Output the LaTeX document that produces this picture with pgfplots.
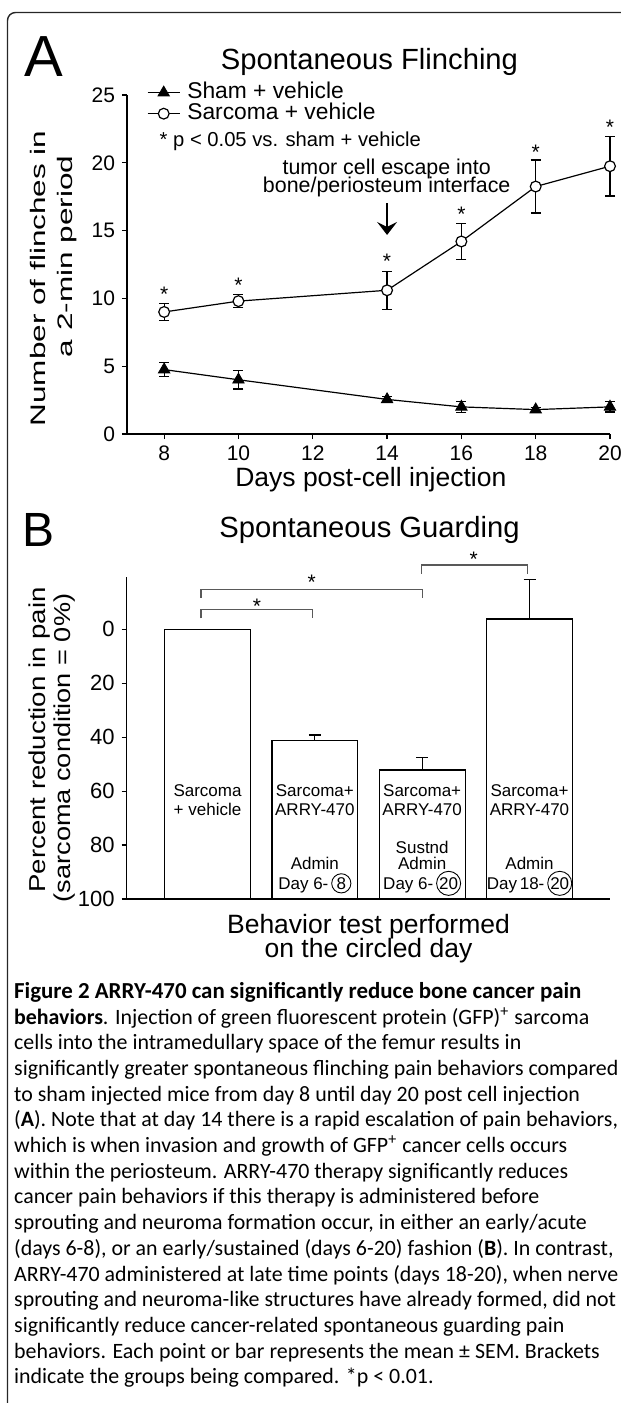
\documentclass[border=0pt]{standalone}
\usepackage{pgfplots}
\pgfplotsset{compat=1.18}
\usepackage{pgfplotstable}
\usepackage{fontspec}
\setmainfont{Liberation Sans}
\newfontfamily\capfont{Carlito}
\usetikzlibrary{arrows.meta}

\pgfplotstableread{
d m e
8 4.75 0.50
10 4.00 0.68
14 2.55 0.20
16 2.00 0.40
18 1.80 0.15
20 2.00 0.38
}\sham
\pgfplotstableread{
d m e
8 9.00 0.63
10 9.80 0.50
14 10.60 1.40
16 14.20 1.33
18 18.25 1.95
20 19.75 2.20
}\sarc
\pgfplotstableread{
i v e
0 0.0 0.0
1 41.1 1.9
2 52.2 4.6
3 -3.8 14.8
}\guard

\newcommand\fsz[2]{\fontsize{#1}{#2}\selectfont}
\newcommand\circnum[1]{\tikz[baseline=(c.base)]\node[draw,circle,inner sep=0.3pt,minimum size=9.6pt,line width=0.45pt](c){#1};}
\newcommand\cl[2]{\node[anchor=base west,inner sep=0pt,font=\capfont\fsz{10.95}{12.9}] at (6.9pt,{-(499.15+#1*12.85)*1pt}) {#2};}
\newcommand\sigstar[2]{\node[anchor=base,inner sep=0pt,font=\fsz{10.5}{12}] at (axis cs:#1,#2) {*};}

\begin{document}
\begin{tikzpicture}
\useasboundingbox (0,0) rectangle (310.5pt,-701.5pt);
\draw[line width=0.7pt, black!85, rounded corners=4pt] (3.75pt,-703pt) -- (3.75pt,-6.25pt) -- (312pt,-6.25pt);

% ---------------- Panel A ----------------
\node[anchor=base west,inner sep=0pt,font=\fsz{29}{32}] at (12.1pt,-38.35pt) {A};
\node[anchor=base,inner sep=0pt,font=\fsz{14.6}{17}] at (184.75pt,-34.5pt) {Spontaneous Flinching};
\node[anchor=base west,inner sep=0pt,font=\fsz{10.1}{12}] at (79.65pt,-73pt) {* p < 0.05 vs. sham + vehicle};
\node[anchor=base,inner sep=0pt,font=\fsz{10.7}{12}] at (193.35pt,-87pt) {tumor cell escape into};
\node[anchor=base,inner sep=0pt,font=\fsz{10.7}{12}] at (193.35pt,-96.25pt) {bone/periosteum interface};
\node[anchor=base,inner sep=0pt,font=\fsz{13.25}{15}] at (185.4pt,-243.35pt) {Days post-cell injection};
\node[anchor=base,inner sep=0pt,rotate=90,xscale=1.5,font=\fsz{10.5}{12}] at (22.5pt,-139.25pt) {Number of flinches in};
\node[anchor=base,inner sep=0pt,rotate=90,xscale=1.5,font=\fsz{10.5}{12}] at (36.15pt,-128.25pt) {a 2-min period};

\begin{axis}[
  at={(63.5pt,-217pt)}, anchor=south west, scale only axis,
  width=241.5pt, height=169.5pt,
  xmin=7, xmax=20, ymin=0, ymax=25,
  axis x line*=bottom, axis y line*=left,
  xtick={8,10,12,14,16,18,20}, ytick={0,5,10,15,20,25},
  tick align=outside, major tick length=2.5pt,
  every tick/.style={black, line width=0.6pt},
  axis line style={black, line width=0.6pt},
  tick label style={font=\fsz{10.5}{12}},
  /pgf/number format/assume math mode=true,
  clip=false,
  legend cell align=left,
  legend style={at={(0.0408,1.039)}, anchor=north west, draw=none, fill=none,
    inner sep=0pt, font=\fsz{11.4}{13},
    nodes={inner sep=0pt, text height=8.3pt, text depth=2.2pt},
    /tikz/every odd column/.append style={column sep=3.5pt}},
  legend image code/.code={\draw[mark repeat=2,mark phase=2,#1] plot coordinates {(0pt,0pt) (8pt,0pt) (16pt,0pt)};},
]
\addplot[black, line width=0.6pt, mark=triangle*, mark size=3.3pt,
  mark options={fill=black, line width=0.4pt},
  error bars/.cd, y dir=both, y explicit,
  error bar style={line width=0.6pt},
  error mark options={rotate=90, mark size=2.5pt, line width=0.6pt}]
  table[x=d, y=m, y error=e] {\sham};
\addlegendentry{Sham + vehicle}
\addplot[black, line width=0.6pt, mark=*, mark size=2.7pt,
  mark options={fill=white, line width=0.6pt},
  error bars/.cd, y dir=both, y explicit,
  error bar style={line width=0.6pt},
  error mark options={rotate=90, mark size=2.5pt, line width=0.6pt}]
  table[x=d, y=m, y error=e] {\sarc};
\addlegendentry{Sarcoma + vehicle}
\sigstar{8}{9.77}
\sigstar{10}{10.46}
\sigstar{14}{12.18}
\sigstar{16}{15.67}
\sigstar{18}{20.24}
\sigstar{20}{22.06}
\draw[line width=0.7pt, -{Stealth[length=6.5pt,width=10pt,inset=2.5pt]}] (axis cs:14,17.0) -- (axis cs:14,14.68);
\end{axis}

% ---------------- Panel B ----------------
\node[anchor=base west,inner sep=0pt,font=\fsz{24}{28}] at (11.2pt,-273.35pt) {B};
\node[anchor=base,inner sep=0pt,font=\fsz{14.6}{17}] at (184.75pt,-268.65pt) {Spontaneous Guarding};
\node[anchor=base,inner sep=0pt,font=\fsz{13.25}{15}] at (184.25pt,-466.65pt) {Behavior test performed};
\node[anchor=base,inner sep=0pt,font=\fsz{13.25}{15}] at (184.25pt,-478.65pt) {on the circled day};
\node[anchor=base,inner sep=0pt,rotate=90,xscale=1.2,font=\fsz{11.5}{13}] at (22.5pt,-370pt) {Percent reduction in pain};
\node[anchor=base,inner sep=0pt,rotate=90,xscale=1.18,font=\fsz{11.5}{13}] at (35.25pt,-374pt) {(sarcoma condition = 0\%)};

\begin{axis}[
  at={(63.35pt,-449.5pt)}, anchor=south west, scale only axis,
  width=241.65pt, height=161.15pt,
  xmin=-0.753, xmax=3.75, ymin=0, ymax=119.5,
  axis x line*=bottom, axis y line*=left,
  xtick=\empty, ytick={0,20,40,60,80,100}, yticklabels={100,80,60,40,20,0},
  tick align=outside, major tick length=2.5pt,
  every tick/.style={black, line width=0.6pt},
  axis line style={black, line width=0.6pt},
  tick label style={font=\fsz{11}{13}},
  ybar, bar width=0.8,
  clip=false,
]
\addplot[draw=black, fill=white, line width=0.6pt, bar shift=0pt,
  error bars/.cd, y dir=plus, y explicit,
  error bar style={line width=0.6pt},
  error mark options={rotate=90, mark size=3pt, line width=0.6pt}]
  table[x=i, y expr=100-\thisrow{v}, y error=e] {\guard};
% brackets
\draw[black!65, line width=0.6pt] (axis cs:-0.06,104.08) -- (axis cs:-0.06,107.42) -- (axis cs:0.977,107.42) -- (axis cs:0.977,104.08);
\draw[black!65, line width=0.6pt] (axis cs:-0.06,111.73) -- (axis cs:-0.06,114.84) -- (axis cs:2.0,114.84) -- (axis cs:2.0,111.73);
\draw[black!65, line width=0.6pt] (axis cs:1.99,120.52) -- (axis cs:1.99,123.86) -- (axis cs:2.98,123.86) -- (axis cs:2.98,120.52);
\sigstar{0.46}{105.97}
\sigstar{0.97}{114.77}
\sigstar{2.48}{123.37}
% bar texts
\begin{scope}[every node/.style={anchor=base,inner sep=0pt,font=\fsz{8.5}{10}}]
\node at (axis cs:0,38.15) {Sarcoma};
\node at (axis cs:0,31.1) {+ vehicle};
\node at (axis cs:1,38.15) {Sarcoma+};
\node at (axis cs:1,31.1) {ARRY-470};
\node at (axis cs:2,38.15) {Sarcoma+};
\node at (axis cs:2,31.1) {ARRY-470};
\node at (axis cs:3,38.15) {Sarcoma+};
\node at (axis cs:3,31.1) {ARRY-470};
\node at (axis cs:1,11.06) {Admin};
\node at (axis cs:2,17.0) {Sustnd};
\node at (axis cs:2,11.06) {Admin};
\node at (axis cs:3,11.06) {Admin};
\end{scope}
\node[anchor=base,inner sep=0pt,font=\fsz{8.5}{10}] at (axis cs:1,3.64) {Day 6-\,\circnum{8}};
\node[anchor=base,inner sep=0pt,font=\fsz{8.5}{10}] at (axis cs:2,3.64) {Day 6-\,\circnum{20}};
\node[anchor=base,inner sep=0pt,font=\fsz{8.5}{10}] at (axis cs:3,3.64) {Day\,18-\,\circnum{20}};
\end{axis}

% ---------------- Caption ----------------
\cl{0}{\bfseries\fsz{11.45}{12.9}Figure 2 ARRY-470 can significantly reduce bone cancer pain}
\cl{1}{\textbf{behaviors}. Injection of green fluorescent protein (GFP)\textsuperscript{+} sarcoma}
\cl{2}{cells into the intramedullary space of the femur results in}
\cl{3}{significantly greater spontaneous flinching pain behaviors compared}
\cl{4}{to sham injected mice from day 8 until day 20 post cell injection}
\cl{5}{(\textbf{A}). Note that at day 14 there is a rapid escalation of pain behaviors,}
\cl{6}{which is when invasion and growth of GFP\textsuperscript{+} cancer cells occurs}
\cl{7}{within the periosteum. ARRY-470 therapy significantly reduces}
\cl{8}{cancer pain behaviors if this therapy is administered before}
\cl{9}{sprouting and neuroma formation occur, in either an early/acute}
\cl{10}{(days 6-8), or an early/sustained (days 6-20) fashion (\textbf{B}). In contrast,}
\cl{11}{ARRY-470 administered at late time points (days 18-20), when nerve}
\cl{12}{sprouting and neuroma-like structures have already formed, did not}
\cl{13}{significantly reduce cancer-related spontaneous guarding pain}
\cl{14}{behaviors. Each point or bar represents the mean ± SEM. Brackets}
\cl{15}{indicate the groups being compared. *p < 0.01.}
\end{tikzpicture}
\end{document}
